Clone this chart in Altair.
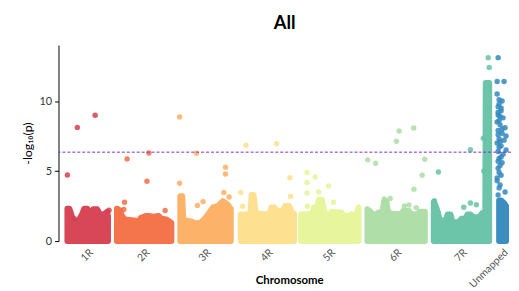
import altair as alt
import pandas as pd

chromosomes = ["1R", "2R", "3R", "4R", "5R", "6R", "7R", "Unmapped"]
colors = ["#d53e4f", "#f46d43", "#fdae61", "#fee08b", "#e6f598", "#abdda4", "#66c2a5", "#3288bd"]
label_pos = [88.5, 145.5, 207.5, 270, 333, 400, 466, 507.5]
threshold = 6.35

# Envelope of the dense bulk of points per chromosome (cumulative position, -log10 p)
env_pos = {
    "1R": [68, 70, 72, 74, 78, 80, 83, 85, 88, 91, 94, 98, 101, 105, 108, 109],
    "2R": [118, 121, 123, 126, 133, 140, 142, 147, 150, 155, 160, 163, 168, 172, 173],
    "3R": [182, 184, 185, 188, 193, 198, 203, 208, 211, 215, 220, 225, 230, 233],
    "4R": [243, 250, 253, 254, 256, 258, 265, 272, 274, 277, 280, 285, 288, 292, 295, 297],
    "5R": [304, 315, 317, 320, 322, 325, 328, 333, 335, 340, 345, 347, 352, 354, 360, 362],
    "6R": [371, 374, 376, 380, 382, 386, 388, 390, 392, 396, 405, 407, 413, 415, 421, 424, 429],
    "7R": [438, 440, 442, 444, 450, 452, 455, 457, 463, 466, 470, 472, 475, 478, 484, 487, 490, 490.5, 494],
    "Unmapped": [504, 506, 509, 511],
}
env_val = {
    "1R": [2.32, 2.32, 1.9, 1.35, 1.34, 1.55, 1.95, 2.32, 2.32, 2.0, 2.27, 2.27, 1.9, 1.92, 2.09, 1.8],
    "2R": [2.32, 2.2, 1.8, 1.55, 1.5, 1.42, 1.65, 1.8, 1.8, 1.75, 1.8, 1.6, 1.55, 1.35, 1.3],
    "3R": [3.2, 3.2, 1.6, 1.45, 1.4, 1.25, 1.34, 1.7, 2.0, 2.4, 2.5, 2.85, 2.6, 2.3],
    "4R": [1.9, 1.92, 2.0, 3.3, 3.3, 2.0, 1.92, 1.95, 2.4, 2.4, 2.15, 2.15, 2.5, 2.5, 2.0, 1.95],
    "5R": [1.92, 1.92, 2.4, 2.45, 2.95, 2.95, 1.95, 1.95, 2.1, 2.05, 2.05, 1.8, 1.8, 1.9, 1.9, 2.4],
    "6R": [2.27, 2.1, 1.92, 1.92, 2.05, 2.05, 2.85, 2.85, 2.05, 1.95, 1.92, 2.15, 2.15, 1.92, 1.92, 2.1, 2.1],
    "7R": [2.8, 2.5, 2.1, 1.5, 1.45, 1.9, 1.9, 1.35, 1.35, 1.6, 1.6, 1.9, 1.9, 1.7, 1.7, 2.0, 2.0, 11.3, 11.3],
    "Unmapped": [2.9, 2.9, 2.7, 2.5],
}

# Individual points above the bulk
pt_pos = {
    "1R": [68, 78, 96, 110, 75],
    "2R": [128.3, 148.3, 150.3, 125.7, 125, 166.7],
    "3R": [181.3, 181.3, 198.3, 227.7, 227.7, 226, 231.3, 205, 199.3],
    "4R": [248.3, 279.3, 292.7, 293.3, 243, 245],
    "5R": [310, 310, 318.3, 310, 321.7, 331.7, 336.7, 310.3],
    "6R": [371.3, 379.3, 400.3, 403, 417.7, 429, 426.3, 418, 394, 388, 387.7, 408.3, 413, 420.3],
    "7R": [442.7, 475, 468.3, 475, 481, 438.7, 493, 494, 488, 488.5],
    "Unmapped": [503, 502, 509, 502, 504, 507, 503, 506, 503, 508, 502, 505, 510, 503, 507, 511,
                 504, 509, 502, 506, 511, 503, 508, 504, 507, 503, 506, 502, 505, 510, 503,
                 504, 506, 503, 505, 504, 507, 503, 505, 504, 506, 503, 505, 504, 502, 504],
}
pt_val = {
    "1R": [4.72, 8.12, 8.99, 2.2, 1.6],
    "2R": [5.87, 4.27, 6.29, 2.77, 2.25, 2.18],
    "3R": [8.87, 4.13, 6.27, 5.28, 4.79, 3.47, 3.15, 2.82, 2.54],
    "4R": [6.85, 6.95, 4.53, 3.19, 3.47, 2.49],
    "5R": [4.9, 4.18, 4.58, 3.43, 3.5, 3.94, 2.77, 2.49],
    "6R": [5.8, 5.56, 7.13, 7.86, 8.08, 5.85, 4.7, 3.71, 3.05, 3.0, 2.75, 2.51, 2.58, 2.39],
    "7R": [4.93, 6.53, 2.42, 2.72, 2.6, 2.89, 13.1, 12.4, 7.35, 5.0],
    "Unmapped": [13.1, 11.4, 11.4, 10.5, 10.1, 10.0, 9.6, 9.3, 9.0, 8.8, 8.5, 8.3, 8.1, 7.9, 7.7, 7.5,
                 7.3, 7.2, 7.0, 6.8, 6.5, 6.4, 6.2, 5.9, 5.6, 5.2, 4.7, 4.3, 4.0, 3.5, 3.3,
                 9.8, 9.5, 9.2, 8.9, 8.6, 8.0, 7.6, 7.1, 6.7, 6.0, 5.7, 5.4, 4.9, 4.5, 3.8],
}

env_rows = []
for c in chromosomes:
    env_rows += [{"chrom": c, "pos": p, "logp": v} for p, v in zip(env_pos[c], env_val[c])]
env_df = pd.DataFrame(env_rows)

pt_rows = []
for c in chromosomes:
    pt_rows += [{"chrom": c, "pos": p, "logp": v} for p, v in zip(pt_pos[c], pt_val[c])]
pt_df = pd.DataFrame(pt_rows)

thr_df = pd.DataFrame({"logp": [threshold]})

FONT = "Lato"
label_expr = " : ".join(
    [f"datum.value == {p} ? '{c}'" for p, c in zip(label_pos, chromosomes)]
) + " : ''"

color_scale = alt.Scale(domain=chromosomes, range=colors)
xscale = alt.Scale(domain=[59, 516], nice=False, zero=False)
yscale = alt.Scale(domain=[0, 14], nice=False)

x_axis = alt.Axis(
    values=label_pos, labelExpr=label_expr, labelAngle=-45, domain=False, ticks=False,
    grid=False, labelFontSize=10.5, labelColor="#555555", labelFont=FONT, labelPadding=6,
    labelOverlap=False, labelBound=False, labelFlush=False,
    title="Chromosome", titleFont=FONT, titleFontSize=11.5, titleFontWeight="bold",
    titleColor="#000000", titleX=233, titleY=43, titleBaseline="alphabetic",
)
y_axis = alt.Axis(
    values=[0, 5, 10], grid=False, domainColor="#000000", tickColor="#000000", tickSize=4,
    labelFontSize=11, labelColor="#333333", labelFont=FONT, labelPadding=3,
    title="-log₁₀(p)", titleFont=FONT, titleFontSize=12.5, titleFontWeight="normal",
    titleColor="#000000", titlePadding=5,
)

area = alt.Chart(env_df).mark_area(
    strokeWidth=6, strokeJoin="round", opacity=0.95
).encode(
    x=alt.X("pos:Q", scale=xscale, axis=x_axis),
    y=alt.Y("logp:Q", scale=yscale, axis=y_axis, stack=None),
    color=alt.Color("chrom:N", scale=color_scale, legend=None),
    stroke=alt.Stroke("chrom:N", scale=color_scale, legend=None),
    detail="chrom:N",
)

points = alt.Chart(pt_df).mark_circle(size=30, opacity=0.85).encode(
    x=alt.X("pos:Q", scale=xscale),
    y=alt.Y("logp:Q", scale=yscale),
    color=alt.Color("chrom:N", scale=color_scale, legend=None),
)

rule = alt.Chart(thr_df).mark_rule(color="#7b2fd6", strokeDash=[3, 2], strokeWidth=1).encode(
    y=alt.Y("logp:Q", scale=yscale)
)

chart = alt.layer(area, points, rule).properties(
    width=457,
    height=198,
    title=alt.TitleParams("All", fontSize=18.5, fontWeight="bold", anchor="middle",
                          offset=13, font=FONT, color="#000000"),
    autosize=alt.AutoSizeParams(type="none"),
    padding={"left": 51, "top": 36, "right": 0, "bottom": 49},
).configure_view(stroke=None)

chart.save("out.html", embed_options={"renderer": "svg", "actions": False})
